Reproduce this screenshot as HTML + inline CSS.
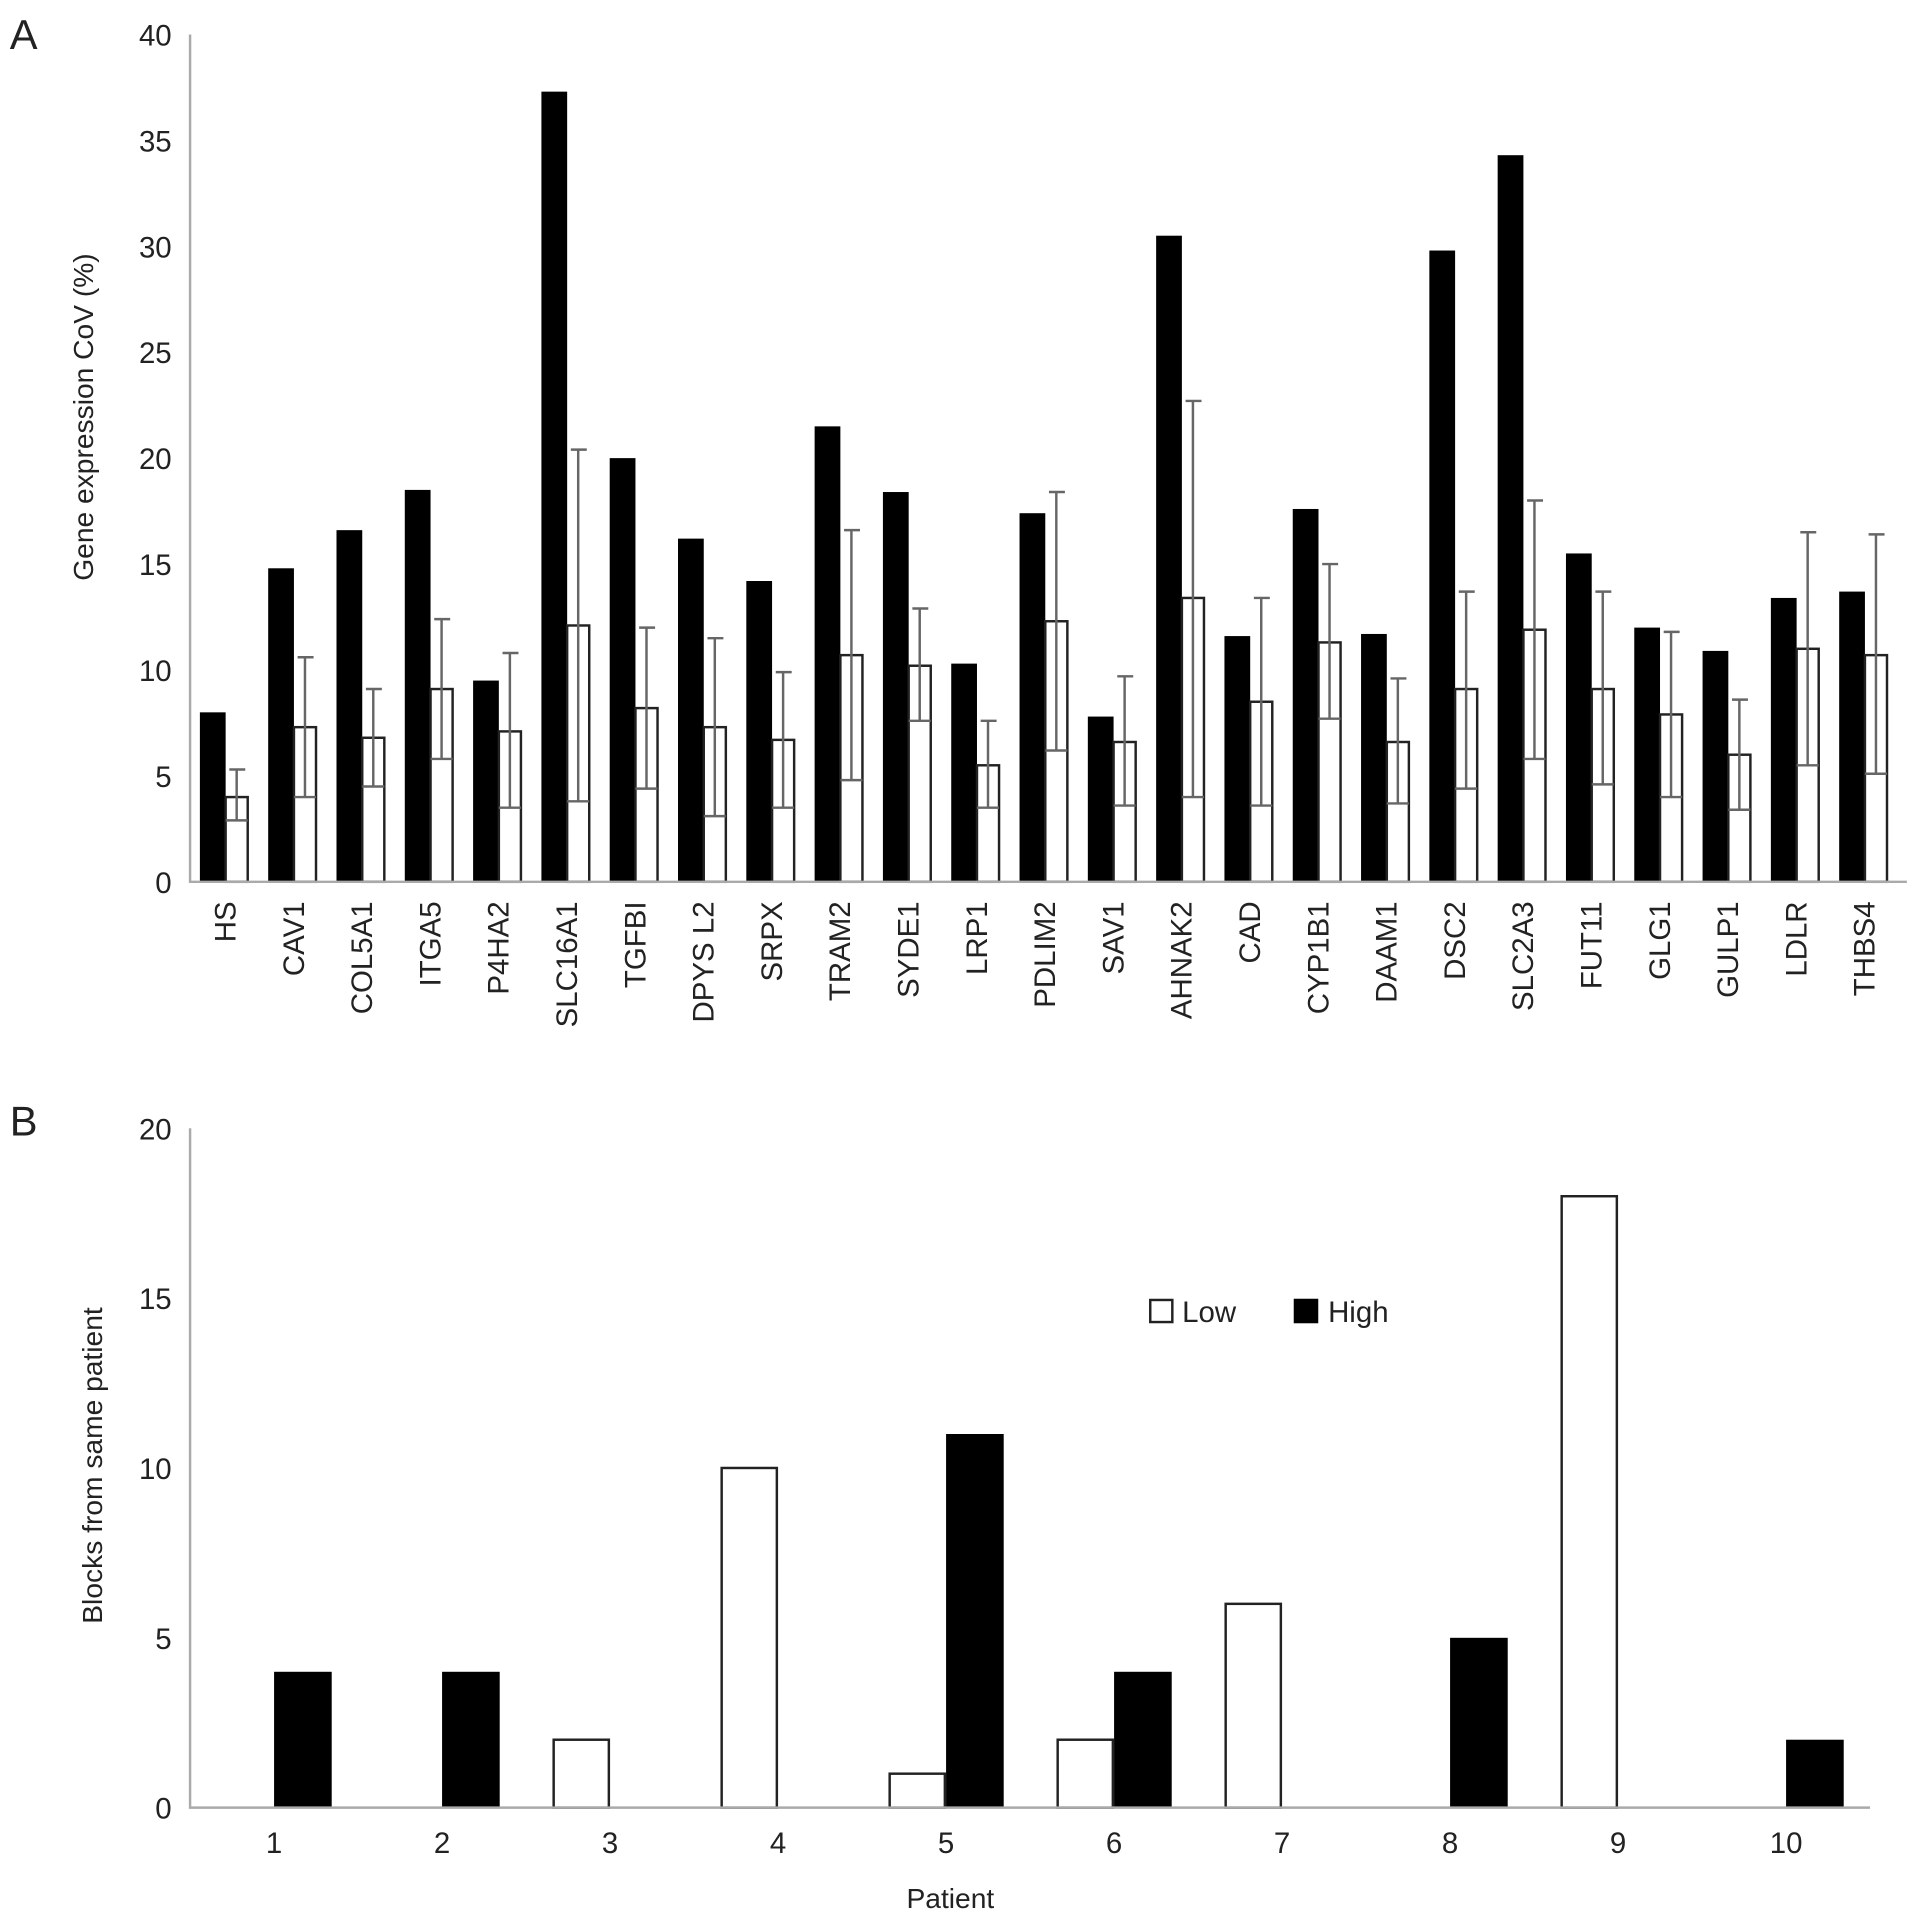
<!DOCTYPE html>
<html><head><meta charset="utf-8"><style>
html,body{margin:0;padding:0;background:#fff}
svg{display:block}
text{font-family:"Liberation Sans",sans-serif;fill:#222}
</style></head><body>
<svg id="fig" width="1913" height="1912" viewBox="0 0 1560 1559" xmlns="http://www.w3.org/2000/svg">
<text x="8" y="40" font-size="34">A</text>
<text x="8" y="926" font-size="34">B</text>
<g id="chartA"></g>
<g id="chartB"></g>
</svg>
<script>
const genes=["HS","CAV1","COL5A1","ITGA5","P4HA2","SLC16A1","TGFBI","DPYS L2","SRPX","TRAM2","SYDE1","LRP1","PDLIM2","SAV1","AHNAK2","CAD","CYP1B1","DAAM1","DSC2","SLC2A3","FUT11","GLG1","GULP1","LDLR","THBS4"];
const blackVals=[8.0,14.8,16.6,18.5,9.5,37.3,20.0,16.2,14.2,21.5,18.4,10.3,17.4,7.8,30.5,11.6,17.6,11.7,29.8,34.3,15.5,12.0,10.9,13.4,13.7];
const whiteVals=[4.0,7.3,6.8,9.1,7.1,12.1,8.2,7.3,6.7,10.7,10.2,5.5,12.3,6.6,13.4,8.5,11.3,6.6,9.1,11.9,9.1,7.9,6.0,11.0,10.7];
const errHigh=[5.3,10.6,9.1,12.4,10.8,20.4,12.0,11.5,9.9,16.6,12.9,7.6,18.4,9.7,22.7,13.4,15.0,9.6,13.7,18.0,13.7,11.8,8.6,16.5,16.4];
const errLow=[2.9,4.0,4.5,5.8,3.5,3.8,4.4,3.1,3.5,4.8,7.6,3.5,6.2,3.6,4.0,3.6,7.7,3.7,4.4,5.8,4.6,4.0,3.4,5.5,5.1];
const yTicksA=[0,5,10,15,20,25,30,35,40];

const patients=["1","2","3","4","5","6","7","8","9","10"];
const lowVals=[0,0,2,10,1,2,6,0,18,0];
const highVals=[4,4,0,0,11,4,0,5,0,2];
const yTicksB=[0,5,10,15,20];

const NS="http://www.w3.org/2000/svg";
function mk(parent,tag,attrs,txt){const e=document.createElementNS(NS,tag);for(const k in attrs)e.setAttribute(k,attrs[k]);if(txt!==undefined)e.textContent=txt;parent.appendChild(e);return e;}

// Panel A
const A=document.getElementById('chartA');
const ax0=155,ax1=1555,ay0=719,ay1=28,amax=40;
const yA=v=>ay0-(ay0-ay1)*v/amax;
const stepA=55.7;
const gx=i=>ax0+stepA*i;
yTicksA.forEach(t=>{
  const e=mk(A,'text',{x:140,y:yA(t)+9,'text-anchor':'end','font-size':24},String(t));
  
  
});
const ta=mk(A,'text',{x:0,y:0,transform:'translate(76,340) rotate(-90)','text-anchor':'middle','font-size':23},'Gene expression CoV (%)');


genes.forEach((g,i)=>{
  const x=gx(i);
  const b=mk(A,'rect',{x:x+8,y:yA(blackVals[i]),width:21,height:yA(0)-yA(blackVals[i]),fill:'#000'});
  
  
  const w=mk(A,'rect',{x:x+29,y:yA(whiteVals[i]),width:18,height:yA(0)-yA(whiteVals[i]),fill:'#fff',stroke:'#222','stroke-width':2});
  
  
  const cx=x+38;
  const el=mk(A,'path',{d:`M${cx},${yA(errLow[i])}V${yA(errHigh[i])}M${cx-6},${yA(errHigh[i])}H${cx+7}M${cx-9},${yA(errLow[i])}H${cx+9}`,stroke:'#666','stroke-width':2,fill:'none'});
  
  
  const lx=x+28;
  const l=mk(A,'text',{x:0,y:0,transform:`translate(${lx+9},735) rotate(-90)`,'text-anchor':'end','font-size':24},g);
  
  
});
const axA=mk(A,'path',{d:`M${ax0},${ay1}V${ay0}H${ax1}`,stroke:'#aaa','stroke-width':2,fill:'none'});



// Panel B
const B=document.getElementById('chartB');
const bx0=155,bx1=1525,by0=1474,by1=920,bmax=20;
const yB=v=>by0-(by0-by1)*v/bmax;
const stepB=137.0;
const cB=i=>bx0+stepB*(i+0.5);
yTicksB.forEach(t=>{
  const e=mk(B,'text',{x:140,y:yB(t)+9,'text-anchor':'end','font-size':24},String(t));
  
  
});
const tb=mk(B,'text',{x:0,y:0,transform:'translate(83,1195) rotate(-90)','text-anchor':'middle','font-size':23},'Blocks from same patient');


patients.forEach((p,i)=>{
  const c=cB(i);
  if(lowVals[i]>0){
    const r=mk(B,'rect',{x:c-46,y:yB(lowVals[i]),width:45,height:yB(0)-yB(lowVals[i]),fill:'#fff',stroke:'#222','stroke-width':2});
    
    
  }
  if(highVals[i]>0){
    const r=mk(B,'rect',{x:c,y:yB(highVals[i]),width:47,height:yB(0)-yB(highVals[i]),fill:'#000'});
    
    
  }
  const l=mk(B,'text',{x:c,y:1511,'text-anchor':'middle','font-size':24},p);
  
  
});
const axB=mk(B,'path',{d:`M${bx0},${by1}V${by0}H${bx1}`,stroke:'#aaa','stroke-width':2,fill:'none'});


const xt=mk(B,'text',{x:775,y:1556,'text-anchor':'middle','font-size':23},'Patient');


const lg=mk(B,'g',{});


const s1=mk(lg,'rect',{x:938,y:1060,width:18,height:18,fill:'#fff',stroke:'#222','stroke-width':2});


const t1=mk(lg,'text',{x:964,y:1078,'font-size':24},'Low');


const s2=mk(lg,'rect',{x:1055,y:1059,width:20,height:20,fill:'#000'});


const t2=mk(lg,'text',{x:1083,y:1078,'font-size':24},'High');


</script>
</body></html>
